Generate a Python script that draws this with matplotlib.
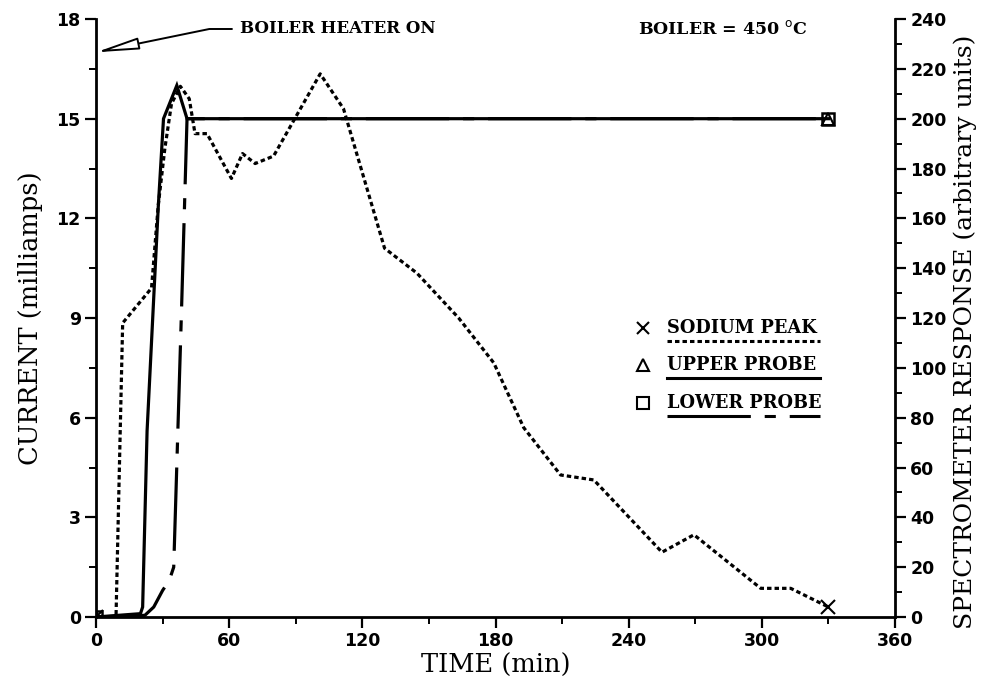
import numpy as np
import matplotlib
matplotlib.use("Agg")
import matplotlib.pyplot as plt
from matplotlib.lines import Line2D
from matplotlib.ticker import MultipleLocator

# time axis (min) and current (mA) for both probes
upper_t = [0, 20, 21, 23, 28, 30.4, 36.4, 41, 330]
upper_ma = [0, 0.1, 0.3, 5.6, 12.3, 15.0, 16.0, 15.0, 15.0]

lower_t = [0, 22, 26, 30, 33, 35, 38.5, 41, 330]
lower_ma = [0, 0.05, 0.3, 0.8, 1.1, 1.5, 9.2, 15.0, 15.0]

# sodium peak on spectrometer scale (arbitrary units)
sodium_t = [0, 9, 12, 25, 28, 31, 34, 38, 42, 44.6, 50, 61, 66, 71.7, 80, 101,
            111.5, 130, 144.6, 163.4, 179.2, 192.7, 209.3, 224.3, 255, 269.4,
            299.5, 313, 330]
sodium_resp = [0, 0, 118, 132, 165, 188, 206, 213, 208, 194, 194, 176, 186, 182,
               185, 218, 204, 148, 138, 120, 102, 76, 57, 55, 26, 33, 11.5, 11.5, 4]

legend_labels = ["SODIUM PEAK", "UPPER PROBE", "LOWER PROBE"]

plt.rcParams["lines.scale_dashes"] = False
serif = "DejaVu Serif"

fig = plt.figure(figsize=(9.87, 6.87), dpi=100)
ax = fig.add_axes([0.0973, 0.1019, 0.8095, 0.8704])
ax2 = ax.twinx()

dotted = (0, (3.2, 2.2))
longshort = (0, (60, 10, 8, 10))

ax.plot(upper_t, upper_ma, color="black", lw=2.3, solid_joinstyle="miter")
ax.plot(lower_t, lower_ma, color="black", lw=2.3, linestyle=longshort)
ax2.plot(sodium_t, sodium_resp, color="black", lw=2.3, linestyle=dotted)

# end markers
ax.plot([upper_t[0], upper_t[-1]], [upper_ma[0], upper_ma[-1]], ls="none",
        marker="^", ms=8, mfc="none", mec="black", mew=1.5)
ax.plot([lower_t[0], lower_t[-1]], [lower_ma[0], lower_ma[-1]], ls="none",
        marker="s", ms=9, mfc="none", mec="black", mew=1.8)
ax2.plot([sodium_t[0], sodium_t[-1]], [sodium_resp[0], sodium_resp[-1]], ls="none",
         marker="x", ms=10, mec="black", mew=1.5)

ax.set_xlim(0, 360)
ax.set_ylim(0, 18)
ax2.set_ylim(0, 240)

ax.xaxis.set_major_locator(MultipleLocator(60))
ax.xaxis.set_minor_locator(MultipleLocator(30))
ax.yaxis.set_major_locator(MultipleLocator(3))
ax.yaxis.set_minor_locator(MultipleLocator(1.5))
ax2.yaxis.set_major_locator(MultipleLocator(20))
ax2.yaxis.set_minor_locator(MultipleLocator(10))

for a in (ax, ax2):
    a.tick_params(which="major", direction="out", length=8, width=1.6,
                  labelsize=12.5, pad=3)
    a.tick_params(which="minor", direction="out", length=5, width=1.4)
    for lab in a.get_xticklabels() + a.get_yticklabels():
        lab.set_fontweight("bold")
    for s in a.spines.values():
        s.set_linewidth(2)
    a.spines["top"].set_visible(False)
ax.spines["right"].set_visible(False)
ax2.spines["left"].set_visible(False)
ax2.spines["bottom"].set_visible(False)

ax.set_xlabel("TIME (min)", family=serif, fontsize=18.5, labelpad=2)
ax.set_ylabel("CURRENT (milliamps)", family=serif, fontsize=18.5, labelpad=10)
ax2.set_ylabel("SPECTROMETER RESPONSE (arbitrary units)", family=serif,
               fontsize=18, va="center")
ax2.yaxis.set_label_coords(1.0876, 0.477)

# annotations
ax.annotate("BOILER HEATER ON", xy=(0, 17), xytext=(65, 17.7),
            family=serif, fontweight="bold", fontsize=12, va="center", ha="left",
            arrowprops=dict(arrowstyle="-|>,head_length=1.3,head_width=0.18",
                            connectionstyle="angle,angleA=0,angleB=11.6,rad=0",
                            fc="white", ec="black", lw=1.4, shrinkA=4, shrinkB=0,
                            mutation_scale=20))
ax.text(244, 17.7, "BOILER = 450 $^{\\rm o}$C", family=serif, fontweight="bold",
        fontsize=12.5, va="center", ha="left")

# legend drawn as marker + underlined label
markers = ["x", "^", "s"]
styles = [dotted, "-", longshort]
ys = [0.4833, 0.4214, 0.3579]
for lab, mk, st, yy in zip(legend_labels, markers, styles, ys):
    ax.plot([0.6846], [yy], transform=ax.transAxes, marker=mk, ls="none",
            ms=8, mfc="none", mec="black", mew=1.5, clip_on=False)
    ax.text(0.7146, yy, lab, transform=ax.transAxes, family=serif,
            fontweight="bold", fontsize=12.8, va="center", ha="left")
    ax.add_line(Line2D([0.7146, 0.906], [yy - 0.0225, yy - 0.0225],
                       transform=ax.transAxes, color="black", lw=2.2,
                       linestyle=st))

fig.savefig("out.png", dpi=100)
